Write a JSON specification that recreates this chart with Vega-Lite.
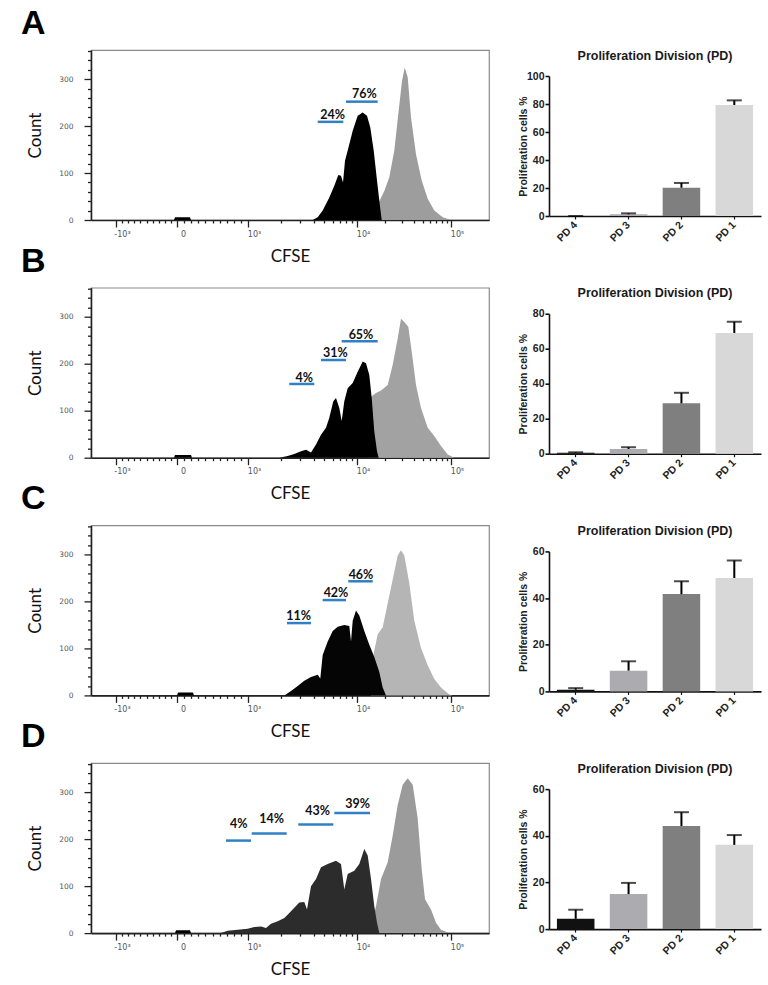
{
  "$schema": "https://vega.github.io/schema/vega-lite/v6.json",
  "background": "white",
  "padding": {"left": 20, "top": 6, "right": 5, "bottom": 5},
  "config": {"view": {"stroke": null}, "font": "Liberation Sans", "axis": {"grid": false, "labelOverlap": false, "labelFlush": false}},
  "datasets": {
    "hist": [
      {"p":"A","s":"g","ch":276,"n":0},{"p":"A","s":"g","ch":280,"n":25},{"p":"A","s":"g","ch":288.3,"n":40},{"p":"A","s":"g","ch":293.3,"n":62},{"p":"A","s":"g","ch":298.3,"n":91},{"p":"A","s":"g","ch":303.3,"n":148},{"p":"A","s":"g","ch":307.7,"n":233},{"p":"A","s":"g","ch":311,"n":296},{"p":"A","s":"g","ch":313.7,"n":325},{"p":"A","s":"g","ch":316.7,"n":304},{"p":"A","s":"g","ch":320,"n":218},{"p":"A","s":"g","ch":325,"n":140},{"p":"A","s":"g","ch":330.7,"n":84},{"p":"A","s":"g","ch":336.7,"n":45},{"p":"A","s":"g","ch":343.3,"n":20},{"p":"A","s":"g","ch":351.7,"n":6},{"p":"A","s":"g","ch":360,"n":0},
      {"p":"A","s":"k","ch":221.7,"n":0},{"p":"A","s":"k","ch":226.7,"n":6},{"p":"A","s":"k","ch":231.7,"n":20},{"p":"A","s":"k","ch":238.3,"n":48},{"p":"A","s":"k","ch":243.3,"n":73},{"p":"A","s":"k","ch":247.3,"n":96},{"p":"A","s":"k","ch":250,"n":94},{"p":"A","s":"k","ch":252,"n":80},{"p":"A","s":"k","ch":254,"n":126},{"p":"A","s":"k","ch":256.7,"n":148},{"p":"A","s":"k","ch":261.7,"n":190},{"p":"A","s":"k","ch":266.7,"n":222},{"p":"A","s":"k","ch":271.7,"n":229},{"p":"A","s":"k","ch":276,"n":222},{"p":"A","s":"k","ch":279.3,"n":197},{"p":"A","s":"k","ch":282.7,"n":148},{"p":"A","s":"k","ch":286,"n":84},{"p":"A","s":"k","ch":288.7,"n":34},{"p":"A","s":"k","ch":290.7,"n":0},
      {"p":"A","s":"z","ch":83,"n":0},{"p":"A","s":"z","ch":84,"n":6},{"p":"A","s":"z","ch":99,"n":6},{"p":"A","s":"z","ch":100,"n":0},
      {"p":"B","s":"g","ch":276.7,"n":0},{"p":"B","s":"g","ch":278.3,"n":127},{"p":"B","s":"g","ch":285,"n":138},{"p":"B","s":"g","ch":290,"n":143},{"p":"B","s":"g","ch":296.7,"n":155},{"p":"B","s":"g","ch":301.7,"n":198},{"p":"B","s":"g","ch":306.7,"n":254},{"p":"B","s":"g","ch":310,"n":296},{"p":"B","s":"g","ch":313.3,"n":289},{"p":"B","s":"g","ch":317.3,"n":279},{"p":"B","s":"g","ch":320.7,"n":226},{"p":"B","s":"g","ch":325,"n":155},{"p":"B","s":"g","ch":330,"n":106},{"p":"B","s":"g","ch":336.7,"n":64},{"p":"B","s":"g","ch":343.3,"n":46},{"p":"B","s":"g","ch":350,"n":25},{"p":"B","s":"g","ch":356.7,"n":7},{"p":"B","s":"g","ch":363.3,"n":0},
      {"p":"B","s":"k","ch":188.3,"n":0},{"p":"B","s":"k","ch":196.7,"n":3.5},{"p":"B","s":"k","ch":203.3,"n":8},{"p":"B","s":"k","ch":210,"n":14},{"p":"B","s":"k","ch":215,"n":17},{"p":"B","s":"k","ch":220,"n":11},{"p":"B","s":"k","ch":225,"n":28},{"p":"B","s":"k","ch":230,"n":49},{"p":"B","s":"k","ch":235,"n":64},{"p":"B","s":"k","ch":238.3,"n":85},{"p":"B","s":"k","ch":242.3,"n":120},{"p":"B","s":"k","ch":245,"n":127},{"p":"B","s":"k","ch":248.3,"n":106},{"p":"B","s":"k","ch":250.7,"n":78},{"p":"B","s":"k","ch":253.3,"n":120},{"p":"B","s":"k","ch":256.7,"n":148},{"p":"B","s":"k","ch":261.7,"n":159},{"p":"B","s":"k","ch":266.7,"n":183},{"p":"B","s":"k","ch":271.7,"n":205},{"p":"B","s":"k","ch":275,"n":201},{"p":"B","s":"k","ch":278.3,"n":176},{"p":"B","s":"k","ch":280.7,"n":127},{"p":"B","s":"k","ch":283.3,"n":56},{"p":"B","s":"k","ch":286,"n":14},{"p":"B","s":"k","ch":287.7,"n":0},
      {"p":"B","s":"z","ch":83,"n":0},{"p":"B","s":"z","ch":84,"n":6},{"p":"B","s":"z","ch":100,"n":6},{"p":"B","s":"z","ch":101,"n":0},
      {"p":"C","s":"g","ch":280,"n":0},{"p":"C","s":"g","ch":282.7,"n":90},{"p":"C","s":"g","ch":286.7,"n":130},{"p":"C","s":"g","ch":291.7,"n":145},{"p":"C","s":"g","ch":296.7,"n":196},{"p":"C","s":"g","ch":301.7,"n":247},{"p":"C","s":"g","ch":306.7,"n":298},{"p":"C","s":"g","ch":310,"n":309},{"p":"C","s":"g","ch":313.3,"n":298},{"p":"C","s":"g","ch":318.3,"n":239},{"p":"C","s":"g","ch":323.3,"n":159},{"p":"C","s":"g","ch":330,"n":101},{"p":"C","s":"g","ch":336.7,"n":64},{"p":"C","s":"g","ch":343.3,"n":35},{"p":"C","s":"g","ch":350,"n":17},{"p":"C","s":"g","ch":358.3,"n":2},{"p":"C","s":"g","ch":361.7,"n":0},
      {"p":"C","s":"k","ch":193.3,"n":0},{"p":"C","s":"k","ch":200,"n":9.5},{"p":"C","s":"k","ch":206.7,"n":20},{"p":"C","s":"k","ch":213.3,"n":31},{"p":"C","s":"k","ch":220,"n":39},{"p":"C","s":"k","ch":226.7,"n":44},{"p":"C","s":"k","ch":229.3,"n":36},{"p":"C","s":"k","ch":231.7,"n":86},{"p":"C","s":"k","ch":236.7,"n":115},{"p":"C","s":"k","ch":241.7,"n":137},{"p":"C","s":"k","ch":246.7,"n":146},{"p":"C","s":"k","ch":253.3,"n":150},{"p":"C","s":"k","ch":258.3,"n":148},{"p":"C","s":"k","ch":260,"n":115},{"p":"C","s":"k","ch":261.7,"n":159},{"p":"C","s":"k","ch":265,"n":181},{"p":"C","s":"k","ch":268.3,"n":170},{"p":"C","s":"k","ch":273.3,"n":137},{"p":"C","s":"k","ch":278.3,"n":108},{"p":"C","s":"k","ch":283.3,"n":82},{"p":"C","s":"k","ch":288.3,"n":50},{"p":"C","s":"k","ch":291.7,"n":17},{"p":"C","s":"k","ch":295,"n":0},
      {"p":"C","s":"z","ch":86,"n":0},{"p":"C","s":"z","ch":87,"n":6},{"p":"C","s":"z","ch":102,"n":6},{"p":"C","s":"z","ch":103,"n":0},
      {"p":"D","s":"g","ch":278.3,"n":0},{"p":"D","s":"g","ch":285,"n":57},{"p":"D","s":"g","ch":290,"n":115},{"p":"D","s":"g","ch":296.7,"n":151},{"p":"D","s":"g","ch":301.7,"n":208},{"p":"D","s":"g","ch":306.7,"n":273},{"p":"D","s":"g","ch":311.7,"n":316},{"p":"D","s":"g","ch":316.7,"n":330},{"p":"D","s":"g","ch":321.7,"n":316},{"p":"D","s":"g","ch":326.7,"n":244},{"p":"D","s":"g","ch":330.7,"n":136},{"p":"D","s":"g","ch":334,"n":72},{"p":"D","s":"g","ch":340,"n":50},{"p":"D","s":"g","ch":345,"n":22},{"p":"D","s":"g","ch":350,"n":7},{"p":"D","s":"g","ch":358.3,"n":0},
      {"p":"D","s":"k","ch":130,"n":0},{"p":"D","s":"k","ch":136.7,"n":5},{"p":"D","s":"k","ch":146.7,"n":7},{"p":"D","s":"k","ch":156.7,"n":9},{"p":"D","s":"k","ch":163.3,"n":13},{"p":"D","s":"k","ch":170,"n":14},{"p":"D","s":"k","ch":175,"n":11},{"p":"D","s":"k","ch":180,"n":20},{"p":"D","s":"k","ch":186.7,"n":25},{"p":"D","s":"k","ch":193.3,"n":32},{"p":"D","s":"k","ch":198.3,"n":43},{"p":"D","s":"k","ch":203.3,"n":54},{"p":"D","s":"k","ch":208.3,"n":65},{"p":"D","s":"k","ch":213.3,"n":66},{"p":"D","s":"k","ch":216,"n":50},{"p":"D","s":"k","ch":220,"n":100},{"p":"D","s":"k","ch":225,"n":115},{"p":"D","s":"k","ch":230,"n":140},{"p":"D","s":"k","ch":236.7,"n":147},{"p":"D","s":"k","ch":245,"n":154},{"p":"D","s":"k","ch":250,"n":147},{"p":"D","s":"k","ch":253.3,"n":93},{"p":"D","s":"k","ch":256.7,"n":126},{"p":"D","s":"k","ch":263.3,"n":133},{"p":"D","s":"k","ch":268.3,"n":147},{"p":"D","s":"k","ch":273.3,"n":179},{"p":"D","s":"k","ch":276.7,"n":165},{"p":"D","s":"k","ch":280,"n":115},{"p":"D","s":"k","ch":283.3,"n":57},{"p":"D","s":"k","ch":286,"n":22},{"p":"D","s":"k","ch":288.3,"n":0},
      {"p":"D","s":"z","ch":84,"n":0},{"p":"D","s":"z","ch":85,"n":6},{"p":"D","s":"z","ch":99,"n":6},{"p":"D","s":"z","ch":100,"n":0}
    ],
    "gates": [
      {"p":"A","x1":226.7,"x2":252.3,"n":209,"xm":241.7,"nt":215,"t":"24%"},
      {"p":"A","x1":255,"x2":286.7,"n":252,"xm":273.3,"nt":259,"t":"76%"},
      {"p":"B","x1":198.3,"x2":223.3,"n":157,"xm":213.3,"nt":162,"t":"4%"},
      {"p":"B","x1":230,"x2":255,"n":208,"xm":244.3,"nt":214,"t":"31%"},
      {"p":"B","x1":250.7,"x2":286.7,"n":248,"xm":270,"nt":253,"t":"65%"},
      {"p":"C","x1":196,"x2":220,"n":154,"xm":207.7,"nt":161,"t":"11%"},
      {"p":"C","x1":231.7,"x2":255,"n":203,"xm":245,"nt":209,"t":"42%"},
      {"p":"C","x1":257.3,"x2":281.7,"n":243,"xm":270,"nt":248,"t":"46%"},
      {"p":"D","x1":135,"x2":160,"n":197,"xm":147.7,"nt":224,"t":"4%"},
      {"p":"D","x1":160.7,"x2":195.7,"n":212,"xm":180.7,"nt":234,"t":"14%"},
      {"p":"D","x1":207.3,"x2":242.3,"n":231,"xm":226.7,"nt":251,"t":"43%"},
      {"p":"D","x1":243.3,"x2":279,"n":256,"xm":266.7,"nt":266,"t":"39%"}
    ],
    "bars": [
      {"p":"A","pd":"PD 4","v":0,"hi":0},{"p":"A","pd":"PD 3","v":1.2,"hi":1.9},{"p":"A","pd":"PD 2","v":20.2,"hi":23.6},{"p":"A","pd":"PD 1","v":79.3,"hi":82.6},
      {"p":"B","pd":"PD 4","v":0.5,"hi":0.8},{"p":"B","pd":"PD 3","v":2.7,"hi":3.7},{"p":"B","pd":"PD 2","v":28.8,"hi":34.8},{"p":"B","pd":"PD 1","v":69,"hi":75.4},
      {"p":"C","pd":"PD 4","v":0.7,"hi":1.4},{"p":"C","pd":"PD 3","v":8.9,"hi":12.9},{"p":"C","pd":"PD 2","v":41.7,"hi":47.2},{"p":"C","pd":"PD 1","v":48.6,"hi":56.1},
      {"p":"D","pd":"PD 4","v":4.4,"hi":8.3},{"p":"D","pd":"PD 3","v":15,"hi":19.8},{"p":"D","pd":"PD 2","v":44.2,"hi":50.1},{"p":"D","pd":"PD 1","v":36.1,"hi":40.3}
    ]
  },
  "columns": 2,
  "bounds": "flush",
  "align": "each",
  "spacing": {"row": 67.7, "column": 60},
  "concat": [
    {
      "width": 398, "height": 170,
      "view": {"stroke": "#8a8a8a", "strokeWidth": 1.2},
      "title": {"text": "A", "anchor": "start", "frame": "group", "fontSize": 34, "font": "Liberation Sans", "fontWeight": "bold", "dx": -70, "offset": 6, "color": "#000"},
      "data": {"name": "hist"},
      "layer": [
        {"transform": [{"filter": "datum.p=='A' && datum.s=='g'"}], "mark": {"type": "area", "color": "#9d9d9d"},
         "encoding": {
           "x": {"field": "ch", "type": "quantitative", "title": "CFSE", "scale": {"domain": [0, 398], "nice": false, "zero": false},
             "axis": {"values": [25,31.1,37.2,43.3,49.4,55.5,61.6,67.7,73.8,79.9,86,93.1,100.2,107.3,114.4,121.5,128.6,135.7,142.8,149.9,157,189.8,209,222.6,233.2,241.8,249.1,255.4,261,266,294.3,310.8,322.6,331.7,339.1,345.4,350.9,355.7,360], "tickCount": 200,
               "labelExpr": "datum.value==25?'-10³':datum.value==86?'0':datum.value==157?'10³':datum.value==266?'10⁴':datum.value==360?'10⁵':''",
               "tickSize": {"condition": {"test": "indexof([25,86,157,266,360], datum.value) >= 0", "value": 7}, "value": 3},
               "domainColor": "#222", "domainWidth": 1.6, "tickColor": "#222", "tickWidth": 1.3, "labelFontSize": 8, "labelColor": "#555", "labelFont": "DejaVu Sans", "labelPadding": 3, "labelOffset": 6, "labelOverlap": false, "labelFlush": false, "labelBound": false,
               "titleFont": "Lato", "titleFontSize": 17, "titleFontWeight": "normal", "titleColor": "#111", "titleY": 28}},
           "y": {"field": "n", "type": "quantitative", "title": "Count", "scale": {"domain": [0, 362], "nice": false},
             "axis": {"values": [0,20,40,60,80,100,120,140,160,180,200,220,240,260,280,300,320,340,360], "tickCount": 200, "labelExpr": "datum.value % 100 == 0 ? '' + datum.value : ''",
               "tickSize": {"condition": {"test": "datum.value % 100 == 0", "value": 7}, "value": 3.5},
               "domainColor": "#222", "domainWidth": 1.6, "tickColor": "#222", "tickWidth": 1.3, "labelFontSize": 7.5, "labelColor": "#555", "labelFont": "DejaVu Sans", "labelPadding": 11, "labelFlush": false, "labelOverlap": false,
               "titleFont": "Lato", "titleFontSize": 17, "titleFontWeight": "normal", "titleColor": "#111", "titleX": -47}}
         }},
        {"transform": [{"filter": "datum.p=='A' && datum.s=='k'"}], "mark": {"type": "area", "color": "#000"},
         "encoding": {"x": {"field": "ch", "type": "quantitative", "title": "CFSE"}, "y": {"field": "n", "type": "quantitative", "title": "Count"}}},
        {"transform": [{"filter": "datum.p=='A' && datum.s=='z'"}], "mark": {"type": "area", "color": "#000"},
         "encoding": {"x": {"field": "ch", "type": "quantitative", "title": "CFSE"}, "y": {"field": "n", "type": "quantitative", "title": "Count"}}},
        {"data": {"name": "gates"}, "transform": [{"filter": "datum.p=='A'"}], "mark": {"type": "rule", "color": "#2f80c5", "strokeWidth": 2.5},
         "encoding": {"x": {"field": "x1", "type": "quantitative", "title": "CFSE"}, "x2": {"field": "x2"}, "y": {"field": "n", "type": "quantitative", "title": "Count"}}},
        {"data": {"name": "gates"}, "transform": [{"filter": "datum.p=='A'"}], "mark": {"type": "text", "font": "Lato", "fontWeight": "bold", "fontSize": 12.5, "color": "#111", "baseline": "alphabetic", "align": "center"},
         "encoding": {"x": {"field": "xm", "type": "quantitative", "title": "CFSE"}, "y": {"field": "nt", "type": "quantitative", "title": "Count"}, "text": {"field": "t"}}}
      ]
    },
    {
      "width": 212, "height": 166,
      "title": {"text": "Proliferation Division (PD)", "anchor": "middle", "frame": "group", "fontSize": 12.5, "font": "Liberation Sans", "fontWeight": "bold", "offset": -12, "color": "#1a1a1a"},
      "data": {"name": "bars"},
      "transform": [{"filter": "datum.p=='A'"}],
      "layer": [
        {"mark": {"type": "bar"},
         "encoding": {
           "x": {"field": "pd", "type": "nominal", "sort": ["PD 4","PD 3","PD 2","PD 1"], "scale": {"paddingInner": 0.29, "paddingOuter": 0.15},
             "axis": {"title": null, "labelAngle": -45, "labelAlign": "right", "labelBaseline": "middle", "labelFont": "Liberation Sans", "labelFontWeight": "bold", "labelFontSize": 10.5, "labelColor": "#222", "domainColor": "#111", "domainWidth": 1.6, "tickColor": "#111", "tickWidth": 1.2, "tickSize": 3, "labelPadding": 4}},
           "y": {"field": "v", "type": "quantitative", "scale": {"domain": [0, 100], "nice": false, "range": [166, 26]},
             "axis": {"values": [0,20,40,60,80,100], "tickCount": 200, "format": "d", "title": "Proliferation cells %", "titleX": -21, "titleFont": "Liberation Sans", "titleFontSize": 10.5, "titleFontWeight": "bold", "titleColor": "#222", "labelFont": "Liberation Sans", "labelFontWeight": "bold", "labelFontSize": 10.5, "labelColor": "#222", "labelPadding": 1, "labelOverlap": false, "domainColor": "#111", "domainWidth": 1.6, "tickColor": "#111", "tickWidth": 1.6, "tickSize": 4}},
           "color": {"field": "pd", "type": "nominal", "scale": {"domain": ["PD 4","PD 3","PD 2","PD 1"], "range": ["#111111","#acacb0","#7f7f7f","#d8d8d8"]}, "legend": null}
         }},
        {"mark": {"type": "rule", "color": "#000", "strokeWidth": 2},
         "encoding": {"x": {"field": "pd", "type": "nominal", "sort": ["PD 4","PD 3","PD 2","PD 1"]}, "y": {"field": "v", "type": "quantitative", "title": "Proliferation cells %"}, "y2": {"field": "hi"}}},
        {"mark": {"type": "tick", "color": "#000", "thickness": 2, "size": 15},
         "encoding": {"x": {"field": "pd", "type": "nominal", "sort": ["PD 4","PD 3","PD 2","PD 1"]}, "y": {"field": "hi", "type": "quantitative", "title": "Proliferation cells %"}}}
      ]
    },
    {
      "width": 398, "height": 170,
      "view": {"stroke": "#8a8a8a", "strokeWidth": 1.2},
      "title": {"text": "B", "anchor": "start", "frame": "group", "fontSize": 34, "font": "Liberation Sans", "fontWeight": "bold", "dx": -70, "offset": 6, "color": "#000"},
      "data": {"name": "hist"},
      "layer": [
        {"transform": [{"filter": "datum.p=='B' && datum.s=='g'"}], "mark": {"type": "area", "color": "#a2a2a2"},
         "encoding": {
           "x": {"field": "ch", "type": "quantitative", "title": "CFSE", "scale": {"domain": [0, 398], "nice": false, "zero": false},
             "axis": {"values": [25,31.1,37.2,43.3,49.4,55.5,61.6,67.7,73.8,79.9,86,93.1,100.2,107.3,114.4,121.5,128.6,135.7,142.8,149.9,157,189.8,209,222.6,233.2,241.8,249.1,255.4,261,266,294.3,310.8,322.6,331.7,339.1,345.4,350.9,355.7,360], "tickCount": 200,
               "labelExpr": "datum.value==25?'-10³':datum.value==86?'0':datum.value==157?'10³':datum.value==266?'10⁴':datum.value==360?'10⁵':''",
               "tickSize": {"condition": {"test": "indexof([25,86,157,266,360], datum.value) >= 0", "value": 7}, "value": 3},
               "domainColor": "#222", "domainWidth": 1.6, "tickColor": "#222", "tickWidth": 1.3, "labelFontSize": 8, "labelColor": "#555", "labelFont": "DejaVu Sans", "labelPadding": 3, "labelOffset": 6, "labelOverlap": false, "labelFlush": false, "labelBound": false,
               "titleFont": "Lato", "titleFontSize": 17, "titleFontWeight": "normal", "titleColor": "#111", "titleY": 28}},
           "y": {"field": "n", "type": "quantitative", "title": "Count", "scale": {"domain": [0, 362], "nice": false},
             "axis": {"values": [0,20,40,60,80,100,120,140,160,180,200,220,240,260,280,300,320,340,360], "tickCount": 200, "labelExpr": "datum.value % 100 == 0 ? '' + datum.value : ''",
               "tickSize": {"condition": {"test": "datum.value % 100 == 0", "value": 7}, "value": 3.5},
               "domainColor": "#222", "domainWidth": 1.6, "tickColor": "#222", "tickWidth": 1.3, "labelFontSize": 7.5, "labelColor": "#555", "labelFont": "DejaVu Sans", "labelPadding": 11, "labelFlush": false, "labelOverlap": false,
               "titleFont": "Lato", "titleFontSize": 17, "titleFontWeight": "normal", "titleColor": "#111", "titleX": -47}}
         }},
        {"transform": [{"filter": "datum.p=='B' && datum.s=='k'"}], "mark": {"type": "area", "color": "#000"},
         "encoding": {"x": {"field": "ch", "type": "quantitative", "title": "CFSE"}, "y": {"field": "n", "type": "quantitative", "title": "Count"}}},
        {"transform": [{"filter": "datum.p=='B' && datum.s=='z'"}], "mark": {"type": "area", "color": "#000"},
         "encoding": {"x": {"field": "ch", "type": "quantitative", "title": "CFSE"}, "y": {"field": "n", "type": "quantitative", "title": "Count"}}},
        {"data": {"name": "gates"}, "transform": [{"filter": "datum.p=='B'"}], "mark": {"type": "rule", "color": "#2f80c5", "strokeWidth": 2.5},
         "encoding": {"x": {"field": "x1", "type": "quantitative", "title": "CFSE"}, "x2": {"field": "x2"}, "y": {"field": "n", "type": "quantitative", "title": "Count"}}},
        {"data": {"name": "gates"}, "transform": [{"filter": "datum.p=='B'"}], "mark": {"type": "text", "font": "Lato", "fontWeight": "bold", "fontSize": 12.5, "color": "#111", "baseline": "alphabetic", "align": "center"},
         "encoding": {"x": {"field": "xm", "type": "quantitative", "title": "CFSE"}, "y": {"field": "nt", "type": "quantitative", "title": "Count"}, "text": {"field": "t"}}}
      ]
    },
    {
      "width": 212, "height": 166,
      "title": {"text": "Proliferation Division (PD)", "anchor": "middle", "frame": "group", "fontSize": 12.5, "font": "Liberation Sans", "fontWeight": "bold", "offset": -12, "color": "#1a1a1a"},
      "data": {"name": "bars"},
      "transform": [{"filter": "datum.p=='B'"}],
      "layer": [
        {"mark": {"type": "bar"},
         "encoding": {
           "x": {"field": "pd", "type": "nominal", "sort": ["PD 4","PD 3","PD 2","PD 1"], "scale": {"paddingInner": 0.29, "paddingOuter": 0.15},
             "axis": {"title": null, "labelAngle": -45, "labelAlign": "right", "labelBaseline": "middle", "labelFont": "Liberation Sans", "labelFontWeight": "bold", "labelFontSize": 10.5, "labelColor": "#222", "domainColor": "#111", "domainWidth": 1.6, "tickColor": "#111", "tickWidth": 1.2, "tickSize": 3, "labelPadding": 4}},
           "y": {"field": "v", "type": "quantitative", "scale": {"domain": [0, 80], "nice": false, "range": [166, 26]},
             "axis": {"values": [0,20,40,60,80], "tickCount": 200, "format": "d", "title": "Proliferation cells %", "titleX": -21, "titleFont": "Liberation Sans", "titleFontSize": 10.5, "titleFontWeight": "bold", "titleColor": "#222", "labelFont": "Liberation Sans", "labelFontWeight": "bold", "labelFontSize": 10.5, "labelColor": "#222", "labelPadding": 1, "labelOverlap": false, "domainColor": "#111", "domainWidth": 1.6, "tickColor": "#111", "tickWidth": 1.6, "tickSize": 4}},
           "color": {"field": "pd", "type": "nominal", "scale": {"domain": ["PD 4","PD 3","PD 2","PD 1"], "range": ["#111111","#acacb0","#7f7f7f","#d8d8d8"]}, "legend": null}
         }},
        {"mark": {"type": "rule", "color": "#000", "strokeWidth": 2},
         "encoding": {"x": {"field": "pd", "type": "nominal", "sort": ["PD 4","PD 3","PD 2","PD 1"]}, "y": {"field": "v", "type": "quantitative", "title": "Proliferation cells %"}, "y2": {"field": "hi"}}},
        {"mark": {"type": "tick", "color": "#000", "thickness": 2, "size": 15},
         "encoding": {"x": {"field": "pd", "type": "nominal", "sort": ["PD 4","PD 3","PD 2","PD 1"]}, "y": {"field": "hi", "type": "quantitative", "title": "Proliferation cells %"}}}
      ]
    },
    {
      "width": 398, "height": 170,
      "view": {"stroke": "#8a8a8a", "strokeWidth": 1.2},
      "title": {"text": "C", "anchor": "start", "frame": "group", "fontSize": 34, "font": "Liberation Sans", "fontWeight": "bold", "dx": -70, "offset": 6, "color": "#000"},
      "data": {"name": "hist"},
      "layer": [
        {"transform": [{"filter": "datum.p=='C' && datum.s=='g'"}], "mark": {"type": "area", "color": "#b5b5b5"},
         "encoding": {
           "x": {"field": "ch", "type": "quantitative", "title": "CFSE", "scale": {"domain": [0, 398], "nice": false, "zero": false},
             "axis": {"values": [25,31.1,37.2,43.3,49.4,55.5,61.6,67.7,73.8,79.9,86,93.1,100.2,107.3,114.4,121.5,128.6,135.7,142.8,149.9,157,189.8,209,222.6,233.2,241.8,249.1,255.4,261,266,294.3,310.8,322.6,331.7,339.1,345.4,350.9,355.7,360], "tickCount": 200,
               "labelExpr": "datum.value==25?'-10³':datum.value==86?'0':datum.value==157?'10³':datum.value==266?'10⁴':datum.value==360?'10⁵':''",
               "tickSize": {"condition": {"test": "indexof([25,86,157,266,360], datum.value) >= 0", "value": 7}, "value": 3},
               "domainColor": "#222", "domainWidth": 1.6, "tickColor": "#222", "tickWidth": 1.3, "labelFontSize": 8, "labelColor": "#555", "labelFont": "DejaVu Sans", "labelPadding": 3, "labelOffset": 6, "labelOverlap": false, "labelFlush": false, "labelBound": false,
               "titleFont": "Lato", "titleFontSize": 17, "titleFontWeight": "normal", "titleColor": "#111", "titleY": 28}},
           "y": {"field": "n", "type": "quantitative", "title": "Count", "scale": {"domain": [0, 362], "nice": false},
             "axis": {"values": [0,20,40,60,80,100,120,140,160,180,200,220,240,260,280,300,320,340,360], "tickCount": 200, "labelExpr": "datum.value % 100 == 0 ? '' + datum.value : ''",
               "tickSize": {"condition": {"test": "datum.value % 100 == 0", "value": 7}, "value": 3.5},
               "domainColor": "#222", "domainWidth": 1.6, "tickColor": "#222", "tickWidth": 1.3, "labelFontSize": 7.5, "labelColor": "#555", "labelFont": "DejaVu Sans", "labelPadding": 11, "labelFlush": false, "labelOverlap": false,
               "titleFont": "Lato", "titleFontSize": 17, "titleFontWeight": "normal", "titleColor": "#111", "titleX": -47}}
         }},
        {"transform": [{"filter": "datum.p=='C' && datum.s=='k'"}], "mark": {"type": "area", "color": "#050505"},
         "encoding": {"x": {"field": "ch", "type": "quantitative", "title": "CFSE"}, "y": {"field": "n", "type": "quantitative", "title": "Count"}}},
        {"transform": [{"filter": "datum.p=='C' && datum.s=='z'"}], "mark": {"type": "area", "color": "#000"},
         "encoding": {"x": {"field": "ch", "type": "quantitative", "title": "CFSE"}, "y": {"field": "n", "type": "quantitative", "title": "Count"}}},
        {"data": {"name": "gates"}, "transform": [{"filter": "datum.p=='C'"}], "mark": {"type": "rule", "color": "#2f80c5", "strokeWidth": 2.5},
         "encoding": {"x": {"field": "x1", "type": "quantitative", "title": "CFSE"}, "x2": {"field": "x2"}, "y": {"field": "n", "type": "quantitative", "title": "Count"}}},
        {"data": {"name": "gates"}, "transform": [{"filter": "datum.p=='C'"}], "mark": {"type": "text", "font": "Lato", "fontWeight": "bold", "fontSize": 12.5, "color": "#111", "baseline": "alphabetic", "align": "center"},
         "encoding": {"x": {"field": "xm", "type": "quantitative", "title": "CFSE"}, "y": {"field": "nt", "type": "quantitative", "title": "Count"}, "text": {"field": "t"}}}
      ]
    },
    {
      "width": 212, "height": 166,
      "title": {"text": "Proliferation Division (PD)", "anchor": "middle", "frame": "group", "fontSize": 12.5, "font": "Liberation Sans", "fontWeight": "bold", "offset": -12, "color": "#1a1a1a"},
      "data": {"name": "bars"},
      "transform": [{"filter": "datum.p=='C'"}],
      "layer": [
        {"mark": {"type": "bar"},
         "encoding": {
           "x": {"field": "pd", "type": "nominal", "sort": ["PD 4","PD 3","PD 2","PD 1"], "scale": {"paddingInner": 0.29, "paddingOuter": 0.15},
             "axis": {"title": null, "labelAngle": -45, "labelAlign": "right", "labelBaseline": "middle", "labelFont": "Liberation Sans", "labelFontWeight": "bold", "labelFontSize": 10.5, "labelColor": "#222", "domainColor": "#111", "domainWidth": 1.6, "tickColor": "#111", "tickWidth": 1.2, "tickSize": 3, "labelPadding": 4}},
           "y": {"field": "v", "type": "quantitative", "scale": {"domain": [0, 60], "nice": false, "range": [166, 26]},
             "axis": {"values": [0,20,40,60], "tickCount": 200, "format": "d", "title": "Proliferation cells %", "titleX": -21, "titleFont": "Liberation Sans", "titleFontSize": 10.5, "titleFontWeight": "bold", "titleColor": "#222", "labelFont": "Liberation Sans", "labelFontWeight": "bold", "labelFontSize": 10.5, "labelColor": "#222", "labelPadding": 1, "labelOverlap": false, "domainColor": "#111", "domainWidth": 1.6, "tickColor": "#111", "tickWidth": 1.6, "tickSize": 4}},
           "color": {"field": "pd", "type": "nominal", "scale": {"domain": ["PD 4","PD 3","PD 2","PD 1"], "range": ["#111111","#acacb0","#7f7f7f","#d8d8d8"]}, "legend": null}
         }},
        {"mark": {"type": "rule", "color": "#000", "strokeWidth": 2},
         "encoding": {"x": {"field": "pd", "type": "nominal", "sort": ["PD 4","PD 3","PD 2","PD 1"]}, "y": {"field": "v", "type": "quantitative", "title": "Proliferation cells %"}, "y2": {"field": "hi"}}},
        {"mark": {"type": "tick", "color": "#000", "thickness": 2, "size": 15},
         "encoding": {"x": {"field": "pd", "type": "nominal", "sort": ["PD 4","PD 3","PD 2","PD 1"]}, "y": {"field": "hi", "type": "quantitative", "title": "Proliferation cells %"}}}
      ]
    },
    {
      "width": 398, "height": 170,
      "view": {"stroke": "#8a8a8a", "strokeWidth": 1.2},
      "title": {"text": "D", "anchor": "start", "frame": "group", "fontSize": 34, "font": "Liberation Sans", "fontWeight": "bold", "dx": -70, "offset": 6, "color": "#000"},
      "data": {"name": "hist"},
      "layer": [
        {"transform": [{"filter": "datum.p=='D' && datum.s=='g'"}], "mark": {"type": "area", "color": "#9b9b9b"},
         "encoding": {
           "x": {"field": "ch", "type": "quantitative", "title": "CFSE", "scale": {"domain": [0, 398], "nice": false, "zero": false},
             "axis": {"values": [25,31.1,37.2,43.3,49.4,55.5,61.6,67.7,73.8,79.9,86,93.1,100.2,107.3,114.4,121.5,128.6,135.7,142.8,149.9,157,189.8,209,222.6,233.2,241.8,249.1,255.4,261,266,294.3,310.8,322.6,331.7,339.1,345.4,350.9,355.7,360], "tickCount": 200,
               "labelExpr": "datum.value==25?'-10³':datum.value==86?'0':datum.value==157?'10³':datum.value==266?'10⁴':datum.value==360?'10⁵':''",
               "tickSize": {"condition": {"test": "indexof([25,86,157,266,360], datum.value) >= 0", "value": 7}, "value": 3},
               "domainColor": "#222", "domainWidth": 1.6, "tickColor": "#222", "tickWidth": 1.3, "labelFontSize": 8, "labelColor": "#555", "labelFont": "DejaVu Sans", "labelPadding": 3, "labelOffset": 6, "labelOverlap": false, "labelFlush": false, "labelBound": false,
               "titleFont": "Lato", "titleFontSize": 17, "titleFontWeight": "normal", "titleColor": "#111", "titleY": 28}},
           "y": {"field": "n", "type": "quantitative", "title": "Count", "scale": {"domain": [0, 362], "nice": false},
             "axis": {"values": [0,20,40,60,80,100,120,140,160,180,200,220,240,260,280,300,320,340,360], "tickCount": 200, "labelExpr": "datum.value % 100 == 0 ? '' + datum.value : ''",
               "tickSize": {"condition": {"test": "datum.value % 100 == 0", "value": 7}, "value": 3.5},
               "domainColor": "#222", "domainWidth": 1.6, "tickColor": "#222", "tickWidth": 1.3, "labelFontSize": 7.5, "labelColor": "#555", "labelFont": "DejaVu Sans", "labelPadding": 11, "labelFlush": false, "labelOverlap": false,
               "titleFont": "Lato", "titleFontSize": 17, "titleFontWeight": "normal", "titleColor": "#111", "titleX": -47}}
         }},
        {"transform": [{"filter": "datum.p=='D' && datum.s=='k'"}], "mark": {"type": "area", "color": "#2c2c2c"},
         "encoding": {"x": {"field": "ch", "type": "quantitative", "title": "CFSE"}, "y": {"field": "n", "type": "quantitative", "title": "Count"}}},
        {"transform": [{"filter": "datum.p=='D' && datum.s=='z'"}], "mark": {"type": "area", "color": "#000"},
         "encoding": {"x": {"field": "ch", "type": "quantitative", "title": "CFSE"}, "y": {"field": "n", "type": "quantitative", "title": "Count"}}},
        {"data": {"name": "gates"}, "transform": [{"filter": "datum.p=='D'"}], "mark": {"type": "rule", "color": "#2f80c5", "strokeWidth": 2.5},
         "encoding": {"x": {"field": "x1", "type": "quantitative", "title": "CFSE"}, "x2": {"field": "x2"}, "y": {"field": "n", "type": "quantitative", "title": "Count"}}},
        {"data": {"name": "gates"}, "transform": [{"filter": "datum.p=='D'"}], "mark": {"type": "text", "font": "Lato", "fontWeight": "bold", "fontSize": 12.5, "color": "#111", "baseline": "alphabetic", "align": "center"},
         "encoding": {"x": {"field": "xm", "type": "quantitative", "title": "CFSE"}, "y": {"field": "nt", "type": "quantitative", "title": "Count"}, "text": {"field": "t"}}}
      ]
    },
    {
      "width": 212, "height": 166,
      "title": {"text": "Proliferation Division (PD)", "anchor": "middle", "frame": "group", "fontSize": 12.5, "font": "Liberation Sans", "fontWeight": "bold", "offset": -12, "color": "#1a1a1a"},
      "data": {"name": "bars"},
      "transform": [{"filter": "datum.p=='D'"}],
      "layer": [
        {"mark": {"type": "bar"},
         "encoding": {
           "x": {"field": "pd", "type": "nominal", "sort": ["PD 4","PD 3","PD 2","PD 1"], "scale": {"paddingInner": 0.29, "paddingOuter": 0.15},
             "axis": {"title": null, "labelAngle": -45, "labelAlign": "right", "labelBaseline": "middle", "labelFont": "Liberation Sans", "labelFontWeight": "bold", "labelFontSize": 10.5, "labelColor": "#222", "domainColor": "#111", "domainWidth": 1.6, "tickColor": "#111", "tickWidth": 1.2, "tickSize": 3, "labelPadding": 4}},
           "y": {"field": "v", "type": "quantitative", "scale": {"domain": [0, 60], "nice": false, "range": [166, 26]},
             "axis": {"values": [0,20,40,60], "tickCount": 200, "format": "d", "title": "Proliferation cells %", "titleX": -21, "titleFont": "Liberation Sans", "titleFontSize": 10.5, "titleFontWeight": "bold", "titleColor": "#222", "labelFont": "Liberation Sans", "labelFontWeight": "bold", "labelFontSize": 10.5, "labelColor": "#222", "labelPadding": 1, "labelOverlap": false, "domainColor": "#111", "domainWidth": 1.6, "tickColor": "#111", "tickWidth": 1.6, "tickSize": 4}},
           "color": {"field": "pd", "type": "nominal", "scale": {"domain": ["PD 4","PD 3","PD 2","PD 1"], "range": ["#111111","#acacb0","#7f7f7f","#d8d8d8"]}, "legend": null}
         }},
        {"mark": {"type": "rule", "color": "#000", "strokeWidth": 2},
         "encoding": {"x": {"field": "pd", "type": "nominal", "sort": ["PD 4","PD 3","PD 2","PD 1"]}, "y": {"field": "v", "type": "quantitative", "title": "Proliferation cells %"}, "y2": {"field": "hi"}}},
        {"mark": {"type": "tick", "color": "#000", "thickness": 2, "size": 15},
         "encoding": {"x": {"field": "pd", "type": "nominal", "sort": ["PD 4","PD 3","PD 2","PD 1"]}, "y": {"field": "hi", "type": "quantitative", "title": "Proliferation cells %"}}}
      ]
    }
  ]
}
